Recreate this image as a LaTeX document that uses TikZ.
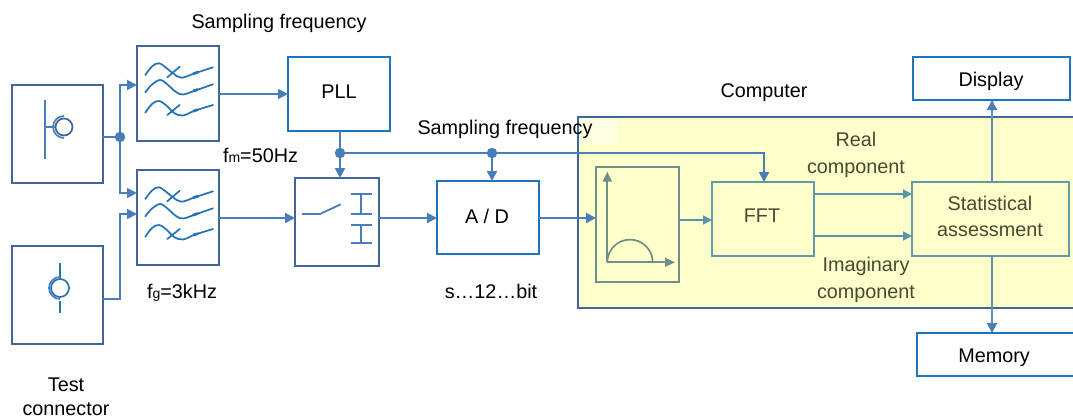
\documentclass[tikz,border=0pt]{standalone}
\usepackage{fontspec}
\setmainfont{Liberation Sans}
\usetikzlibrary{arrows.meta}
\definecolor{boxdk}{HTML}{41659A}
\definecolor{boxbl}{HTML}{1F74BC}
\definecolor{conn}{HTML}{4A7EBB}
\definecolor{glyph}{HTML}{2472B6}
\definecolor{teal}{HTML}{5F9CA6}
\definecolor{inner}{HTML}{6F8F88}
\definecolor{yel}{HTML}{FFFFCC}
\definecolor{yelpale}{HTML}{FFFFE4}
\definecolor{ink}{HTML}{454A32}
\tikzset{
  x=1pt,y=-1pt,
  every node/.style={font=\fontsize{19.8}{26.5}\selectfont,text=black,inner sep=0pt,outer sep=0pt},
  bxdark/.style={draw=boxdk,line width=1.8pt,fill=white},
  bxblue/.style={draw=boxbl,line width=1.8pt,fill=white},
  bxteal/.style={draw=teal,line width=1.8pt,fill=yel},
  lab/.style={align=center},
  labin/.style={align=center,text=ink},
  wire/.style={draw=conn,line width=2pt},
  arrow/.style={wire,-{Triangle[length=10pt,width=10pt,color=conn]}},
  tealwire/.style={draw=teal!70!conn,line width=1.9pt,-{Triangle[length=9pt,width=9pt,color=teal!70!conn]}},
  dot/.style={circle,fill=conn,minimum size=10.5pt},
  fglyph/.pic={
    \begin{scope}[draw=glyph,line width=1.7pt,line cap=round]
      \draw plot[smooth,tension=.6] coordinates {(8.3,29) (15,20.5) (22,17.3) (30,22.5) (36,27.3) (44.3,31.7) (57.7,27.3) (76,21.3)};
      \draw plot[smooth,tension=.6] coordinates {(8.3,46.3) (15,38.5) (23.3,34) (31,39) (39,46) (46,48.5) (57.7,44.7) (76,38.3)};
      \draw plot[smooth,tension=.6] coordinates {(8.3,66.7) (15,58) (22,55) (30,60) (37,67) (46,69.5) (57.7,64.7) (76,59)};
      \draw (30.3,31.3) -- (42.7,20.7);
      \draw (30.3,69) -- (42.7,59);
      \draw[line width=2.6pt,line cap=butt] (56,27.8) -- (61,26.2);
      \draw[line width=2.6pt,line cap=butt] (56,45.2) -- (61,43.4);
      \draw[line width=2.6pt,line cap=butt] (56,65.2) -- (61,63.6);
    \end{scope}
  },
}
\begin{document}
\begin{tikzpicture}
\useasboundingbox (0,0) rectangle (1073,420);
% computer
\node[draw=boxdk,line width=1.8pt,fill=yel,minimum width=496pt,minimum height=191pt,anchor=north west] (comp) at (578,117) {};
\fill[yelpale] (579,118) rectangle (617,143);
% boxes
\node[bxdark,minimum width=91pt,minimum height=98pt] (mica) at (57.5,134) {};
\node[bxdark,minimum width=91pt,minimum height=98pt] (micb) at (57.5,295) {};
\node[bxdark,minimum width=82pt,minimum height=95pt] (fa) at (178,93.5) {};
\node[bxdark,minimum width=82pt,minimum height=95pt] (fb) at (178,217.5) {};
\node[bxblue,minimum width=102pt,minimum height=74pt] (pll) at (339,94) {};
\node (plltxt) at (339,92) {PLL};
\node[bxdark,minimum width=84pt,minimum height=88pt] (sw) at (337,222) {};
\node[bxblue,minimum width=102pt,minimum height=73pt] (ad) at (488,217.5) {};
\node (adt) at (487,216) {A / D};
\node[draw=inner,line width=1.8pt,fill=yel,minimum width=83pt,minimum height=115pt] (gr) at (637.5,224.5) {};
\node[bxteal,minimum width=102pt,minimum height=74pt,text=ink] (fft) at (763,219) {};
\node[labin] (ffttxt) at (762,216) {FFT};
\node[bxteal,minimum width=157pt,minimum height=74pt] (stat) at (990.5,219) {};
\node[labin] (stattxt) at (990,216.5) {Statistical\\assessment};
\node[bxblue,minimum width=157pt,minimum height=43pt] (disp) at (991.5,78.5) {};
\node (disptxt) at (991,81) {Display};
\node[bxblue,minimum width=157pt,minimum height=43pt] (mem) at (995.5,354.5) {};
\node (memtxt) at (994,358) {Memory};
% filter glyphs
\pic at (fa.north west) {fglyph};
\pic at (fb.north west) {fglyph};
% microphone glyphs
\begin{scope}[draw=boxdk,line width=1.7pt]
  \draw[conn] (45,100) -- (45,159);
  \draw[conn] (45,127) -- (55,127);
  \draw (64,127) circle (8.5);
  \draw[conn] (64,138) arc (90:270:11);
\end{scope}
\begin{scope}[draw=glyph,line width=1.7pt]
  \draw (60,263) -- (60,278);
  \draw (60,301) -- (60,313);
  \draw (60,288) circle (9);
  \draw[conn] (60,299) arc (90:270:11);
\end{scope}
% switch glyph
\begin{scope}[draw=conn,line width=1.8pt]
  \draw (302,214) -- (320,214) -- (340.7,204.3);
  \draw[line width=2.2pt] (351,194.3) -- (372,194.3) (351,214) -- (372,214) (361.3,194.3) -- (361.3,214);
  \draw[line width=2.2pt] (351,225) -- (372,225) (351,243.3) -- (372,243.3) (361.3,225) -- (361.3,243.3);
\end{scope}
% graph glyph
\begin{scope}[draw=inner,line width=1.7pt]
  \draw[-{Triangle[length=10pt,width=9pt,color=inner]}] (607.3,262.3) -- (607.3,171.7);
  \draw[-{Triangle[length=10pt,width=9pt,color=inner]}] (607.3,262.3) -- (675,262.3);
  \draw (607.3,262.3) arc (180:360:22.7);
\end{scope}
% junctions
\node[dot] (ja) at (120,137) {};
\node[dot] (jb) at (340,153) {};
\node[dot] (jc) at (492,153) {};
\coordinate (fa-in) at (137,85);
\coordinate (fb-ina) at (137,193);
\coordinate (fb-inb) at (137,214);
% connectors
\draw[wire] (mica.east |- ja) -- (ja);
\draw[arrow] (ja) |- (fa-in);
\draw[arrow] (ja) |- (fb-ina);
\draw[arrow] (micb.east |- 0,299) -| (ja |- fb-inb) -- (fb-inb);
\draw[arrow] (fa.east |- 0,94) -- (pll.west |- 0,94);
\draw[arrow] (fb.east |- 0,218) -- (sw.west |- 0,218);
\draw[wire] (jb |- pll.south) -- (jb);
\draw[arrow] (jb) -- (jb |- sw.north);
\draw[wire] (jb) -- (jc);
\draw[arrow] (jc) -- (jc |- ad.north);
\draw[arrow] (jc) -| (764,0 |- fft.north);
\draw[arrow] (sw.east |- 0,218) -- (ad.west |- 0,218);
\draw[arrow] (ad.east |- 0,218) -- (gr.west |- 0,218);
\draw[tealwire] (gr.east |- 0,220) -- (fft.west |- 0,220);
\draw[tealwire] (fft.east |- 0,194) -- (stat.west |- 0,194);
\draw[tealwire] (fft.east |- 0,236) -- (stat.west |- 0,236);
\draw[tealwire,-{Triangle[length=10pt,width=10pt,color=conn]}] (992,0 |- stat.north) -- (992,0 |- disp.south);
\draw[tealwire,-{Triangle[length=10pt,width=10pt,color=conn]}] (992,0 |- stat.south) -- (992,0 |- mem.north);
% labels
\node[lab] (t1) at (279,23) {Sampling frequency};
\node[lab] (t2) at (505,129) {Sampling frequency};
\node[lab] (t3) at (764,93) {Computer};
\node[lab] (t4) at (260.5,155) {f{\fontsize{14}{14}\selectfont m}=50Hz};
\node[lab] (t5) at (182,293) {f{\fontsize{14}{14}\selectfont g}=3kHz};
\node[lab] (t6) at (491,291) {s…12…bit};
\node[lab,font=\fontsize{19.8}{24}\selectfont] (t7) at (66,397) {Test\\connector};
\node[labin] (t8) at (856,155) {Real\\component};
\node[labin] (t9) at (866,280) {Imaginary\\component};
\end{tikzpicture}
\end{document}
